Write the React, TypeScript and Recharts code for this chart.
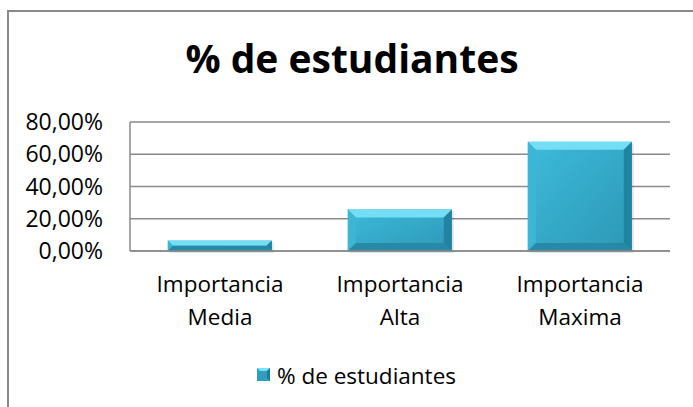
import React from 'react';
import { BarChart, Bar, XAxis, YAxis, CartesianGrid, Legend } from 'recharts';

const categories = ['Importancia Media', 'Importancia Alta', 'Importancia Maxima'];
const values = [0.0645, 0.2581, 0.6774];
const yTicks = [0, 0.2, 0.4, 0.6, 0.8];
const seriesName = '% de estudiantes';

const data = categories.map((c, i) => ({ name: c, value: values[i] }));

const FONT = '"Open Sans", sans-serif';

const fmtPct = (v: number) => (v * 100).toFixed(2).replace('.', ',') + '%';

const BevelBar = (props: any) => {
  const { x, y, width: w, height: h } = props;
  if (!h || h <= 0) return null;
  const b = Math.min(8, h / 2, w / 2);
  return (
    <g>
      <rect x={x + 2} y={y + 2} width={w} height={h} fill="#000" opacity={0.1} />
      <rect x={x} y={y} width={w} height={h} fill="url(#barFace)" />
      <polygon points={`${x},${y} ${x + w},${y} ${x + w - b},${y + b} ${x + b},${y + b}`} fill="#74def4" />
      <polygon points={`${x},${y} ${x + b},${y + b} ${x + b},${y + h - b} ${x},${y + h}`} fill="#3db6d6" />
      <polygon points={`${x + w},${y} ${x + w},${y + h} ${x + w - b},${y + h - b} ${x + w - b},${y + b}`} fill="#22839e" />
      <polygon points={`${x},${y + h} ${x + b},${y + h - b} ${x + w - b},${y + h - b} ${x + w},${y + h}`} fill="#2789a6" />
    </g>
  );
};

const XTick = (props: any) => {
  const { x, payload } = props;
  const words = String(payload.value).split(' ');
  return (
    <text x={x} y={292} textAnchor="middle" fill="#000" fontSize={22.5} fontFamily={FONT}>
      <tspan x={x} dy={0}>{words[0]}</tspan>
      <tspan x={x} dy={33}>{words.slice(1).join(' ')}</tspan>
    </text>
  );
};

const LegendContent = () => (
  <div style={{ display: 'flex', alignItems: 'center', justifyContent: 'center', fontFamily: FONT, fontSize: 22.5, color: '#000', height: 30 }}>
    <svg width={14} height={14} style={{ marginRight: 6 }}>
      <rect x={0} y={0} width={13} height={13} fill="#2f9dbd" />
      <polygon points="0,0 13,0 10,3 3,3" fill="#78e2f6" />
      <polygon points="13,0 13,13 10,10 10,3" fill="#1f7c96" />
    </svg>
    <span>{seriesName}</span>
  </div>
);

export default function App() {
  return (
    <div style={{ position: 'absolute', left: 0, top: 0, width: 693, height: 407, overflow: 'hidden', background: '#fff' }}>
      <div style={{ position: 'absolute', left: 7, top: 10, width: 720, height: 440, border: '2px solid #8a8a8a', boxSizing: 'border-box' }} />
      <svg style={{ position: 'absolute', left: 0, top: 0 }} width={693} height={407}>
        <text x={352} y={73} textAnchor="middle" fontFamily={FONT} fontWeight={700} fontSize={39} fill="#000">
          {seriesName}
        </text>
      </svg>
      <div style={{ position: 'absolute', left: 0, top: 0 }}>
        <BarChart width={693} height={407} data={data} margin={{ top: 122, right: 23, bottom: 96, left: 0 }} barCategoryGap="21%">
          <defs>
            <linearGradient id="barFace" x1="0" y1="0" x2="1" y2="1">
              <stop offset="0%" stopColor="#3dbbdb" />
              <stop offset="100%" stopColor="#2d97b6" />
            </linearGradient>
          </defs>
          <CartesianGrid vertical={false} stroke="#8a8a8a" strokeWidth={1.5} />
          <XAxis dataKey="name" tick={<XTick />} tickLine={false} axisLine={{ stroke: '#8a8a8a', strokeWidth: 1.5 }} interval={0} height={30} />
          <YAxis
            domain={[0, 0.8]}
            ticks={yTicks}
            interval={0}
            tickFormatter={fmtPct}
            width={130}
            tickLine={false}
            tickSize={20}
            tickMargin={7}
            axisLine={{ stroke: '#8a8a8a', strokeWidth: 1.5 }}
            tick={{ fill: '#000', fontSize: 23, fontFamily: FONT }}
          />
          <Legend
            content={<LegendContent />}
            height={30}
            wrapperStyle={{ position: 'absolute', left: 0, top: 360, width: 713 }}
          />
          <Bar dataKey="value" name={seriesName} shape={<BevelBar />} isAnimationActive={false} />
        </BarChart>
      </div>
    </div>
  );
}
